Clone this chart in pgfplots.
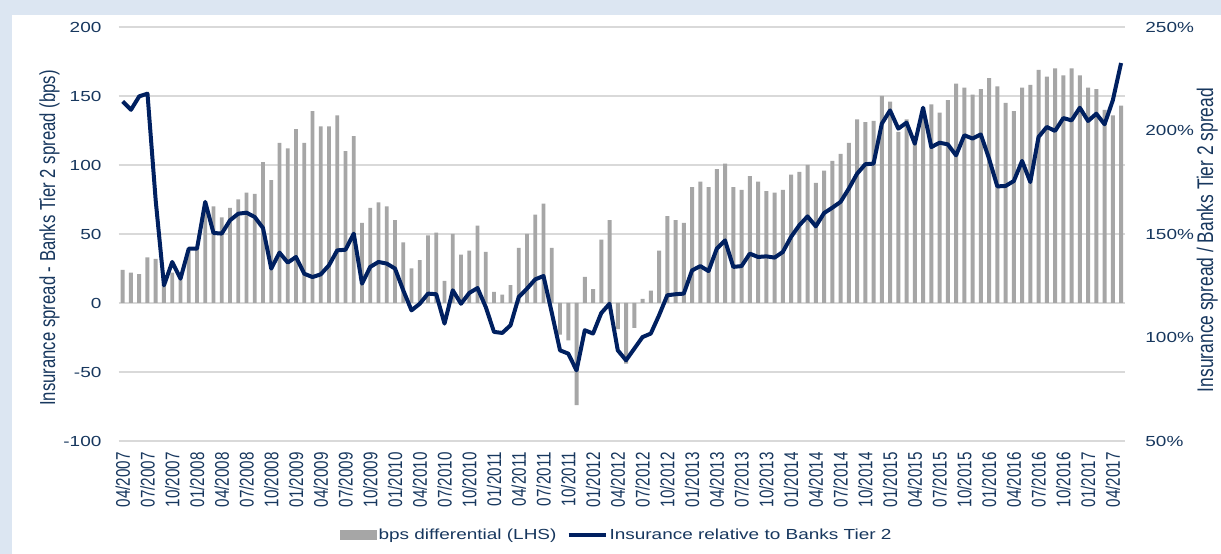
\documentclass[border=0pt]{standalone}
\usepackage{pgfplots}
\pgfplotsset{compat=1.18}
\usepackage{pgfplotstable}
\usepackage{graphicx}
\usepackage{fontspec}
\setmainfont{Liberation Sans}
\newfontfamily\wf[FakeStretch=1.3]{Liberation Sans}
\newcommand{\R}[1]{\scalebox{1}[1.3]{#1}}
\definecolor{navy}{HTML}{002060}
\definecolor{txt}{HTML}{17375E}
\definecolor{bargray}{HTML}{A6A6A6}
\definecolor{gridc}{HTML}{D9D9D9}
\definecolor{bgblue}{HTML}{DCE6F2}

\pgfplotstableread{
idx bps pct
0 24 214
1 22 210
2 21 216.5
3 33 217.8
4 32 166
5 14 125.2
6 22 136.5
7 17 128.4
8 38 142.9
9 40 142.9
10 68 165.5
11 70 150.5
12 62 150.2
13 69 156.6
14 75 159.8
15 80 160.3
16 79 158.2
17 102 152.9
18 89 133.3
19 116 141
20 112 136.2
21 126 138.9
22 116 130.8
23 139 129.2
24 128 130.5
25 128 134.9
26 136 142.1
27 110 142.4
28 121 150.2
29 58 126
30 69 134.1
31 73 136.5
32 70 135.7
33 60 133.3
34 44 122.8
35 25 113.1
36 31 116.3
37 49 121.2
38 51 120.9
39 16 106.7
40 50 122.8
41 35 116.3
42 38 121.5
43 56 123.9
44 37 114.7
45 8 102.7
46 6 102.2
47 13 105.9
48 40 119.6
49 50 123.6
50 64 128.1
51 72 129.7
52 40 112
53 -23 93.8
54 -27 92.2
55 -74 84.1
56 19 103.5
57 10 101.9
58 46 111.8
59 60 116.3
60 -19 93.8
61 -44 89
62 -18 94.6
63 3 100.2
64 9 101.9
65 38 110.7
66 63 120.4
67 60 120.9
68 58 121.2
69 84 132.4
70 88 134.5
71 84 132.1
72 97 142.9
73 101 146.9
74 84 134.1
75 82 134.5
76 92 140.5
77 88 138.9
78 81 139.2
79 80 138.6
80 82 141.3
81 93 148.6
82 95 154.2
83 100 158.5
84 87 153.7
85 96 160.1
86 103 162.7
87 108 165.5
88 116 171.9
89 133 179.1
90 131 183.7
91 132 184
92 150 203.3
93 146 209.7
94 124 200.9
95 133 203.8
96 118 193.6
97 142 211
98 144 192
99 138 194.1
100 147 193.3
101 159 188
102 156 197.7
103 151 196.1
104 155 198.1
105 163 186.4
106 157 173
107 145 173.2
108 139 175.6
109 156 185.3
110 158 175.1
111 169 196.9
112 164 201.7
113 170 199.8
114 165 206
115 170 204.9
116 165 211
117 156 204.6
118 155 208.1
119 140 203
120 136 214.6
121 143 232.6
}\data

\begin{document}
\begin{tikzpicture}[x=1pt,y=1pt]
\useasboundingbox (0,0) rectangle (1221,554);
\fill[bgblue] (0,0) rectangle (1221,554);
\fill[white] (12,0) rectangle (1221,539);
\begin{axis}[
  at={(118.6pt,113pt)}, anchor=south west,
  scale only axis, width=1006.6pt, height=414pt,
  xmin=-0.5, xmax=121.5, ymin=-100, ymax=200,
  axis line style={draw=none}, major tick length=0pt,
  ytick={-100,-50,0,50,100,150,200},
  yticklabels={-100,-50,0,50,100,150,200},
  ymajorgrids, major grid style={gridc, line width=1.4pt},
  xtick={0,3,...,120},
  xticklabels={\R{04/2007},\R{07/2007},\R{10/2007},\R{01/2008},\R{04/2008},\R{07/2008},\R{10/2008},\R{01/2009},\R{04/2009},\R{07/2009},\R{10/2009},\R{01/2010},\R{04/2010},\R{07/2010},\R{10/2010},\R{01/2011},\R{04/2011},\R{07/2011},\R{10/2011},\R{01/2012},\R{04/2012},\R{07/2012},\R{10/2012},\R{01/2013},\R{04/2013},\R{07/2013},\R{10/2013},\R{01/2014},\R{04/2014},\R{07/2014},\R{10/2014},\R{01/2015},\R{04/2015},\R{07/2015},\R{10/2015},\R{01/2016},\R{04/2016},\R{07/2016},\R{10/2016},\R{01/2017},\R{04/2017}},
  xticklabel style={yshift=-11pt, rotate=90, anchor=east, inner sep=0pt, font=\fontsize{15.2}{15.2}\selectfont, text=txt},
  yticklabel style={anchor=east, inner sep=0pt, xshift=-17pt, font=\wf\fontsize{14.6}{14.6}\selectfont, text=txt},
  ylabel={\R{Insurance spread - Banks Tier 2 spread (bps)}},
  every axis y label/.style={at={(axis description cs:0,0.5)}, xshift=-69pt, yshift=-4pt, rotate=90, anchor=center, font=\fontsize{16.7}{16.7}\selectfont, text=txt},
  clip=false,
]
\addplot[ybar, bar width=0.48, fill=bargray, draw=none] table[x=idx, y=bps] {\data};
\end{axis}
\begin{axis}[
  at={(118.6pt,113pt)}, anchor=south west,
  scale only axis, width=1006.6pt, height=414pt,
  xmin=-0.5, xmax=121.5, ymin=50, ymax=250,
  axis x line=none, axis y line*=right, axis line style={draw=none}, major tick length=0pt,
  ytick={50,100,150,200,250}, yticklabels={50\%,100\%,150\%,200\%,250\%},
  yticklabel style={anchor=west, inner sep=0pt, xshift=20pt, font=\wf\fontsize{14.6}{14.6}\selectfont, text=txt},
  ylabel={\R{Insurance spread / Banks Tier 2 spread}},
  every axis y label/.style={at={(axis description cs:1,0.5)}, xshift=82pt, yshift=-6pt, rotate=90, anchor=center, font=\fontsize{17.4}{17.4}\selectfont, text=txt},
  legend columns=2,
  legend style={at={(axis description cs:0.495,-0.227)}, anchor=center, draw=none, fill=none, font=\wf\fontsize{14.6}{14.6}\selectfont, text=txt, /tikz/every even column/.append style={column sep=8pt}},
  clip=false,
]
\addlegendimage{legend image code/.code={\fill[bargray] (0pt,-4.5pt) rectangle (36pt,4.5pt);}}
\addlegendentry{bps differential (LHS)}
\addplot[navy, line width=4pt, line join=round, legend image code/.code={\draw[navy, line width=4pt] (0pt,0pt) -- (37pt,0pt);}] table[x=idx, y=pct] {\data};
\addlegendentry{Insurance relative to Banks Tier 2}
\end{axis}
\end{tikzpicture}
\end{document}
